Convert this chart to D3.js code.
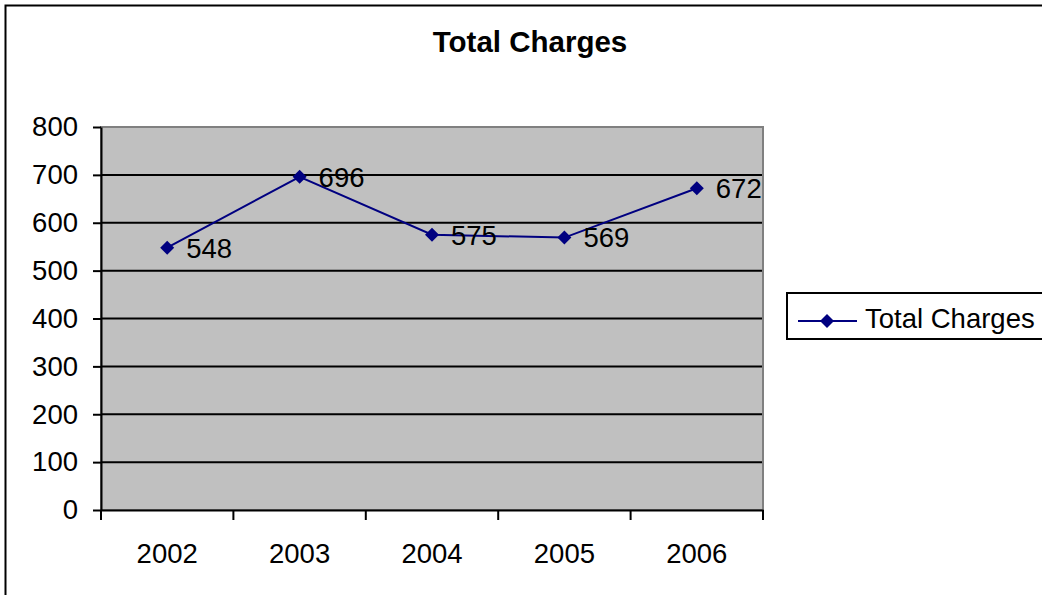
<!DOCTYPE html>
<html>
<head>
<meta charset="utf-8">
<script src="https://cdn.jsdelivr.net/npm/d3@7"></script>
<style>
  body { margin: 0; background: #fff; }
  svg { display: block; font-family: "Liberation Sans", Arial, sans-serif; }
</style>
</head>
<body>
<svg id="chart"></svg>
<script>
const years = ["2002", "2003", "2004", "2005", "2006"];
const totals = [548, 696, 575, 569, 672];
const yTicks = [0, 100, 200, 300, 400, 500, 600, 700, 800];
const seriesName = "Total Charges";

const W = 1042, H = 595;
const plot = { left: 101, top: 127, right: 763, bottom: 510 };
const navy = "#000080";
const fs = 27.5;

const svg = d3.select("#chart").attr("width", W).attr("height", H);

// outer chart border (right/bottom run off the page)
svg.append("rect")
  .attr("x", 5.5).attr("y", 5.5)
  .attr("width", 1100).attr("height", 700)
  .attr("fill", "#fff")
  .attr("stroke", "#000")
  .attr("stroke-width", 2);

svg.append("text")
  .attr("x", 530).attr("y", 52)
  .attr("text-anchor", "middle")
  .attr("font-size", 29.5)
  .attr("font-weight", "bold")
  .text("Total Charges");

const x = d3.scaleBand().domain(years).range([plot.left, plot.right]);
const y = d3.scaleLinear().domain([0, 800]).range([plot.bottom, plot.top]);

// plot area
svg.append("rect")
  .attr("x", plot.left).attr("y", plot.top)
  .attr("width", plot.right - plot.left)
  .attr("height", plot.bottom - plot.top)
  .attr("fill", "#c0c0c0");

svg.append("g")
  .selectAll("line")
  .data(yTicks.filter(d => d > 0))
  .join("line")
  .attr("x1", plot.left).attr("x2", plot.right)
  .attr("y1", d => y(d)).attr("y2", d => y(d))
  .attr("stroke", "#000")
  .attr("stroke-width", 2);

svg.append("rect")
  .attr("x", plot.left).attr("y", plot.top)
  .attr("width", plot.right - plot.left)
  .attr("height", plot.bottom - plot.top)
  .attr("fill", "none")
  .attr("stroke", "#808080")
  .attr("stroke-width", 2);

// y axis
const yAxis = svg.append("g")
  .attr("transform", "translate(" + plot.left + ",0)")
  .call(d3.axisLeft(y).tickValues(yTicks).tickSize(8).tickSizeOuter(0).tickPadding(15));
yAxis.selectAll("text").attr("font-size", fs).attr("fill", "#000").attr("font-family", "inherit");
yAxis.selectAll("line").attr("stroke", "#000").attr("stroke-width", 2);
yAxis.select(".domain").attr("stroke", "#000").attr("stroke-width", 2);

// x axis
const xAxis = svg.append("g")
  .attr("transform", "translate(0," + plot.bottom + ")")
  .call(d3.axisBottom(x).tickSize(0).tickSizeOuter(0).tickPadding(33));
xAxis.selectAll("text").attr("font-size", fs).attr("fill", "#000").attr("font-family", "inherit");
xAxis.select(".domain").attr("stroke", "#000").attr("stroke-width", 2);

xAxis.append("g")
  .selectAll("line")
  .data(years.map(d => x(d)).concat([x.range()[1]]))
  .join("line")
  .attr("x1", d => d).attr("x2", d => d)
  .attr("y1", 0).attr("y2", 10)
  .attr("stroke", "#000")
  .attr("stroke-width", 2);

// series
const cx = (d, i) => x(years[i]) + x.bandwidth() / 2;
const diamond = "M0,-7L7,0L0,7L-7,0Z";

svg.append("path")
  .datum(totals)
  .attr("fill", "none")
  .attr("stroke", navy)
  .attr("stroke-width", 2)
  .attr("d", d3.line().x(cx).y(d => y(d)));

svg.append("g")
  .selectAll("path")
  .data(totals)
  .join("path")
  .attr("transform", (d, i) => "translate(" + cx(d, i) + "," + y(d) + ")")
  .attr("d", diamond)
  .attr("fill", navy);

svg.append("g")
  .selectAll("text")
  .data(totals)
  .join("text")
  .attr("x", (d, i) => cx(d, i) + 19)
  .attr("y", d => y(d))
  .attr("dy", "0.36em")
  .attr("font-size", fs)
  .text(d => d);

// legend
const legend = svg.append("g");
legend.append("rect")
  .attr("x", 787).attr("y", 293)
  .attr("width", 300).attr("height", 46)
  .attr("fill", "#fff")
  .attr("stroke", "#000")
  .attr("stroke-width", 2);
legend.append("line")
  .attr("x1", 798).attr("x2", 857)
  .attr("y1", 321).attr("y2", 321)
  .attr("stroke", navy).attr("stroke-width", 2);
legend.append("path")
  .attr("transform", "translate(827,321)")
  .attr("d", diamond)
  .attr("fill", navy);
legend.append("text")
  .attr("x", 865).attr("y", 328)
  .attr("font-size", fs)
  .text(seriesName);
</script>
</body>
</html>
